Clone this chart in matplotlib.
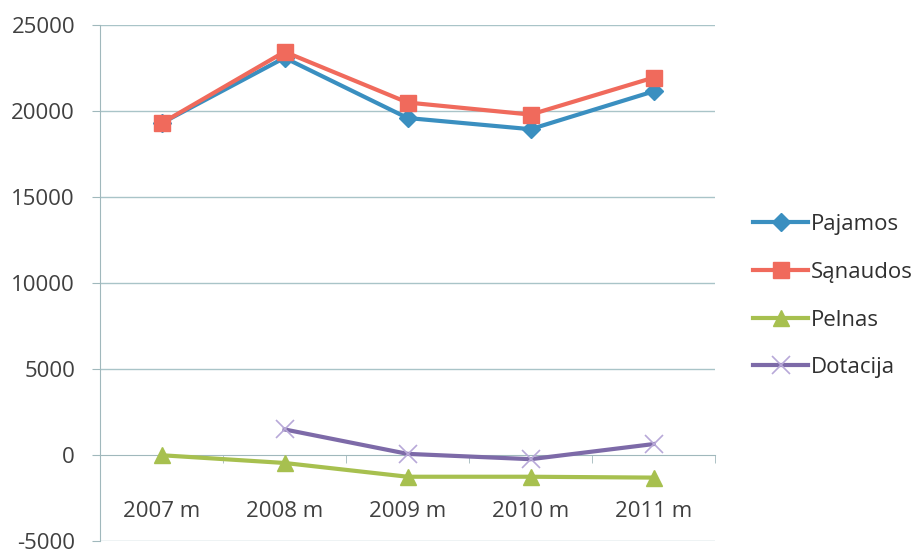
import numpy as np
import matplotlib.pyplot as plt

years = ['2007 m', '2008 m', '2009 m', '2010 m', '2011 m']
pajamos = [19300, 23100, 19600, 18950, 21150]
sanaudos = [19300, 23450, 20500, 19800, 21950]
pelnas = [0, -450, -1250, -1250, -1300]
dotacija = [np.nan, 1500, 80, -230, 650]
y_ticks = [-5000, 0, 5000, 10000, 15000, 20000, 25000]

plt.rcParams['font.family'] = ['Open Sans', 'DejaVu Sans']

fig = plt.figure(figsize=(9.18, 5.58), dpi=100)
ax = fig.add_axes([0.109, 0.03, 0.670, 0.925])

x = np.arange(len(years))
ax.plot(x, pajamos, color='#3a8fc0', lw=3, marker='D', ms=9, label='Pajamos', zorder=3)
ax.plot(x, sanaudos, color='#f06a5c', lw=3, marker='s', ms=12, label='Sąnaudos', zorder=4)
ax.plot(x, pelnas, color='#a7c04f', lw=3, marker='^', ms=12, label='Pelnas', zorder=3)
ax.plot(x, dotacija, color='#7d6aa8', lw=3, marker='x', ms=13, mew=1.2,
        mec='#b8a8d8', label='Dotacija', zorder=3)

ax.set_ylim(-5000, 25000)
ax.set_xlim(-0.5, 4.5)
ax.set_yticks(y_ticks)
ax.set_yticklabels([str(v) for v in y_ticks], fontsize=16, color='#404040')
ax.tick_params(axis='y', length=6, color='#a0b8bc', pad=12)

for v in y_ticks:
    if v != 0:
        ax.axhline(v, color='#a9c4c8', lw=1, zorder=1)

ax.spines['top'].set_visible(False)
ax.spines['right'].set_visible(False)
ax.spines['left'].set_color('#a0b8bc')
ax.spines['bottom'].set_position(('data', 0))
ax.spines['bottom'].set_color('#a0b8bc')
ax.spines['bottom'].set_zorder(1)

ax.set_xticks(x)
ax.set_xticklabels(years, fontsize=16, color='#404040')
ax.tick_params(axis='x', length=0, pad=33)
ax.set_xticks(np.arange(0.5, 4.6, 1), minor=True)
ax.tick_params(axis='x', which='minor', length=6, color='#a0b8bc', direction='out')

fig.legend(loc='upper left', bbox_to_anchor=(0.820, 0.616), frameon=False,
           fontsize=16, handlelength=2.5, labelspacing=1.2, handletextpad=0.1,
           borderpad=0, borderaxespad=0, labelcolor='#303030')

fig.savefig('out.png', dpi=100)
